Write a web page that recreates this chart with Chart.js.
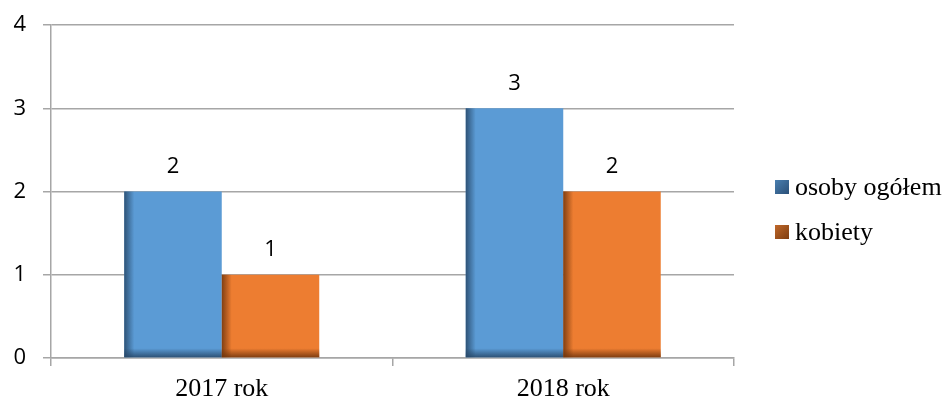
<!DOCTYPE html>
<html>
<head>
<meta charset="utf-8">
<script src="https://cdn.jsdelivr.net/npm/chart.js@4/dist/chart.umd.min.js"></script>
<style>
html,body{margin:0;padding:0;background:#fff;}
#wrap{width:948px;height:401px;}
</style>
</head>
<body>
<div id="wrap"><canvas id="c" width="948" height="401"></canvas></div>
<script>
const categories = ["2017 rok", "2018 rok"];
const seriesNames = ["osoby ogółem", "kobiety"];
const osobyOgolem = [2, 3];
const kobiety = [1, 2];
const yTicks = [0, 1, 2, 3, 4];

const fillColors = ["#5b9bd5", "#ed7d31"];
const edgeColors = ["rgba(38,70,102,", "rgba(110,52,12,"];
const legendGrad = [["#4a7fb0", "#2b5078"], ["#c0682a", "#7e3d10"]];

const shadePlugin = {
  id: 'shade',
  afterDatasetsDraw(chart) {
    const ctx = chart.ctx;
    chart.data.datasets.forEach((ds, di) => {
      const meta = chart.getDatasetMeta(di);
      meta.data.forEach(bar => {
        const left = bar.x - bar.width / 2;
        const top = bar.y;
        const base = bar.base;
        const h = base - top;
        ctx.save();
        let g = ctx.createLinearGradient(left, 0, left + 10, 0);
        g.addColorStop(0, edgeColors[di] + '0.85)');
        g.addColorStop(1, edgeColors[di] + '0)');
        ctx.fillStyle = g;
        ctx.fillRect(left, top, 10, h);
        g = ctx.createLinearGradient(0, base - 9, 0, base);
        g.addColorStop(0, edgeColors[di] + '0)');
        g.addColorStop(1, edgeColors[di] + '0.85)');
        ctx.fillStyle = g;
        ctx.fillRect(left, base - 9, bar.width, 9);
        ctx.restore();
      });
    });
  },
  afterDraw(chart) {
    const ctx = chart.ctx;
    ctx.save();
    ctx.font = '22px "Open Sans", "Liberation Sans", sans-serif';
    ctx.fillStyle = '#000';
    ctx.textAlign = 'center';
    ctx.textBaseline = 'middle';
    chart.data.datasets.forEach((ds, di) => {
      const meta = chart.getDatasetMeta(di);
      meta.data.forEach((bar, i) => {
        ctx.fillText(String(ds.data[i]), bar.x, bar.y - 25);
      });
    });
    ctx.restore();
    ctx.save();
    const ys = [187, 232];
    chart.data.datasets.forEach((ds, di) => {
      const y = ys[di];
      const g = ctx.createLinearGradient(775, y - 7, 789, y + 7);
      g.addColorStop(0, legendGrad[di][0]);
      g.addColorStop(1, legendGrad[di][1]);
      ctx.fillStyle = g;
      ctx.fillRect(775, y - 7, 14, 14);
      ctx.fillStyle = '#000';
      ctx.font = '26px "Liberation Serif", "Times New Roman", serif';
      ctx.textAlign = 'left';
      ctx.textBaseline = 'middle';
      ctx.fillText(ds.label, 795, y + 1);
    });
    ctx.restore();
  }
};

new Chart(document.getElementById('c'), {
  type: 'bar',
  data: {
    labels: categories,
    datasets: [
      { label: seriesNames[0], data: osobyOgolem, backgroundColor: fillColors[0], borderWidth: 0 },
      { label: seriesNames[1], data: kobiety, backgroundColor: fillColors[1], borderWidth: 0 }
    ]
  },
  options: {
    responsive: false,
    animation: false,
    devicePixelRatio: 1,
    layout: { padding: { top: 25, right: 214, bottom: 0, left: 0 } },
    plugins: { legend: { display: false }, tooltip: { enabled: false } },
    datasets: { bar: { barPercentage: 1.0, categoryPercentage: 0.571 } },
    scales: {
      x: {
        grid: { display: true, drawOnChartArea: false, drawTicks: true, tickLength: 8, color: '#a6a6a6', lineWidth: 1.5, offset: true },
        border: { display: true, color: '#a6a6a6', width: 1.5 },
        ticks: { color: '#000', font: { family: '"Liberation Serif", "Times New Roman", serif', size: 26 }, padding: 8 },
        afterFit(s) { s.height = 43; s.paddingLeft = 0; s.paddingRight = 0; }
      },
      y: {
        min: 0, max: 4,
        afterBuildTicks(s) { s.ticks = yTicks.map(v => ({ value: v })); },
        grid: { color: '#a6a6a6', lineWidth: 1.5, tickLength: 8 },
        border: { display: true, color: '#a6a6a6', width: 1.5 },
        ticks: { color: '#000', font: { family: '"Open Sans", "Liberation Sans", sans-serif', size: 22 }, padding: 17 },
        afterFit(s) { s.width = 51; s.paddingTop = 0; s.paddingBottom = 0; }
      }
    }
  },
  plugins: [shadePlugin]
});
</script>
</body>
</html>
